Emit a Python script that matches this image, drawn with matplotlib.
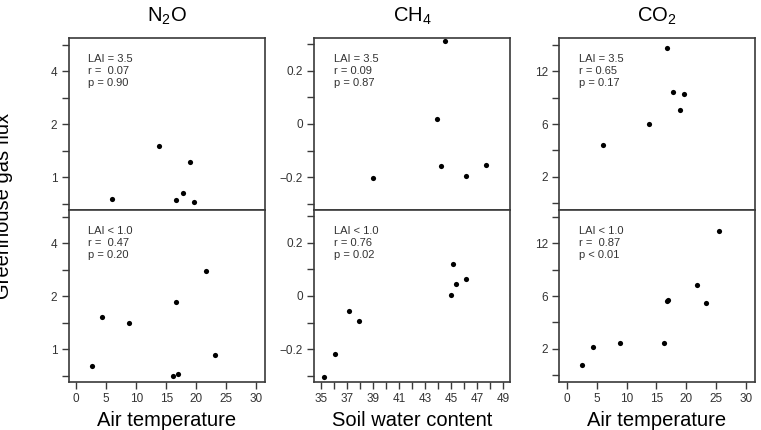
import numpy as np
import matplotlib
matplotlib.use("Agg")
import matplotlib.pyplot as plt
from matplotlib.ticker import FixedLocator, NullFormatter, FixedFormatter

plt.rcParams['font.family'] = ['Liberation Sans', 'DejaVu Sans']
plt.rcParams['mathtext.default'] = 'regular'

# ---- data ----
air_top = [6.0, 13.8, 16.7, 17.8, 18.9, 19.6]
n2o_top = [0.75, 1.51, 0.74, 0.815, 1.22, 0.72]
co2_top = [4.22, 5.97, 15.49, 9.38, 7.36, 9.15]
swc_top = [39.0, 43.9, 44.2, 44.5, 46.1, 47.7]
ch4_top = [-0.205, 0.020, -0.160, 0.315, -0.198, -0.153]

air_bot_n2o = [2.65, 4.35, 8.8, 16.2, 16.7, 17.0, 21.7, 23.2]
n2o_bot = [0.80, 1.52, 1.41, 0.70, 1.85, 0.72, 2.76, 0.92]
swc_bot = [35.2, 36.03, 37.16, 37.93, 45.0, 45.1, 45.35, 46.1]
ch4_bot = [-0.307, -0.220, -0.058, -0.093, 0.002, 0.121, 0.044, 0.063]
air_bot_co2 = [2.64, 4.4, 8.87, 16.2, 16.7, 16.96, 21.75, 23.2, 25.5]
co2_bot = [1.09, 2.10, 2.37, 2.37, 5.52, 5.64, 7.03, 5.41, 13.75]

titles = ['N$_2$O', 'CH$_4$', 'CO$_2$']
xlabels = ['Air temperature', 'Soil water content', 'Air temperature']
ylabel = 'Greenhouse gas flux'
notes_top = ['LAI = 3.5\nr =  0.07\np = 0.90',
             'LAI = 3.5\nr = 0.09\np = 0.87',
             'LAI = 3.5\nr = 0.65\np = 0.17']
notes_bot = ['LAI < 1.0\nr =  0.47\np = 0.20',
             'LAI < 1.0\nr = 0.76\np = 0.02',
             'LAI < 1.0\nr =  0.87\np < 0.01']

n2o_major = [1, 2, 4]
ch4_major = [-0.2, 0, 0.2]
ch4_labels = ['\u22120.2', '0', '0.2']
co2_major = [2, 6, 12]

W, H = 761, 430
fig = plt.figure(figsize=(W / 100, H / 100), dpi=100)

lefts = [68.5, 314, 559]
widths = [196.5, 196, 196]
rows = [(38, 210), (210, 382)]

spine_col = '#3a3a3a'
text_col = '#333333'


def fwd(y):
    y = np.asarray(y, dtype=float)
    return np.log(np.clip(y + 6, 1e-6, None))


def inv(y):
    return np.exp(np.asarray(y, dtype=float)) - 6


axes = {}
for r, (t, b) in enumerate(rows):
    for c in range(3):
        ax = fig.add_axes([lefts[c] / W, 1 - b / H, widths[c] / W, (b - t) / H])
        axes[(r, c)] = ax
        for s in ax.spines.values():
            s.set_color(spine_col)
            s.set_linewidth(1.2)
        ax.tick_params(which='both', direction='out', length=5, width=1.0,
                       color=spine_col, labelcolor=text_col, labelsize=8.5, pad=3)

xdata = [[air_top, swc_top, air_top], [air_bot_n2o, swc_bot, air_bot_co2]]
ydata = [[n2o_top, ch4_top, co2_top], [n2o_bot, ch4_bot, co2_bot]]
notes = [notes_top, notes_bot]

for r in range(2):
    for c in range(3):
        ax = axes[(r, c)]
        ax.scatter(xdata[r][c], ydata[r][c], s=14, color='black', zorder=3,
                   linewidths=0)
        # x axis
        if c == 1:
            ax.set_xlim(34.43, 49.52)
            ax.xaxis.set_major_locator(FixedLocator(np.arange(35, 50, 2)))
            ax.xaxis.set_minor_locator(FixedLocator(np.arange(36, 49, 2)))
        else:
            ax.set_xlim(-1.28, 31.45)
            ax.xaxis.set_major_locator(FixedLocator(np.arange(0, 31, 5)))
            ax.xaxis.set_minor_locator(FixedLocator([]))
        ax.xaxis.set_minor_formatter(NullFormatter())
        if r == 0:
            ax.tick_params(axis='x', which='both', bottom=False, labelbottom=False)
        else:
            ax.set_xlabel(xlabels[c], fontsize=14.5, color='black', labelpad=4)
        # y axis
        if c == 0:
            ax.set_yscale('log', base=2)
            ax.set_ylim(0.650, 6.16)
            ax.yaxis.set_major_locator(FixedLocator(n2o_major))
            ax.yaxis.set_major_formatter(FixedFormatter([str(v) for v in n2o_major]))
            ax.yaxis.set_minor_locator(FixedLocator([2 ** -0.5, 2 ** 0.5, 2 ** 1.5, 2 ** 2.5]))
        elif c == 1:
            ax.set_ylim(-0.3245, 0.3245)
            ax.yaxis.set_major_locator(FixedLocator(ch4_major))
            ax.yaxis.set_major_formatter(FixedFormatter(ch4_labels))
            ax.yaxis.set_minor_locator(FixedLocator([-0.3, -0.1, 0.1, 0.3]))
        else:
            ax.set_yscale('function', functions=(fwd, inv))
            ax.set_ylim(0.208, 17.2)
            ax.yaxis.set_major_locator(FixedLocator(co2_major))
            ax.yaxis.set_major_formatter(FixedFormatter([str(v) for v in co2_major]))
            ax.yaxis.set_minor_locator(FixedLocator([12 * 1.5 ** u - 6 for u in (-1.5, -0.5, 0.5, 1.5)]))
        ax.yaxis.set_minor_formatter(NullFormatter())
        ax.text(0.1, 0.905, notes[r][c], transform=ax.transAxes, ha='left', va='top',
                fontsize=8, color=text_col, linespacing=1.25)
        if r == 0:
            ax.set_title(titles[c], fontsize=14.5, pad=12, color='black')

fig.text(4 / W, 1 - 206 / H, ylabel, rotation=90, ha='center', va='center',
         fontsize=14.5, color='black')

fig.savefig('out.png', dpi=100)
